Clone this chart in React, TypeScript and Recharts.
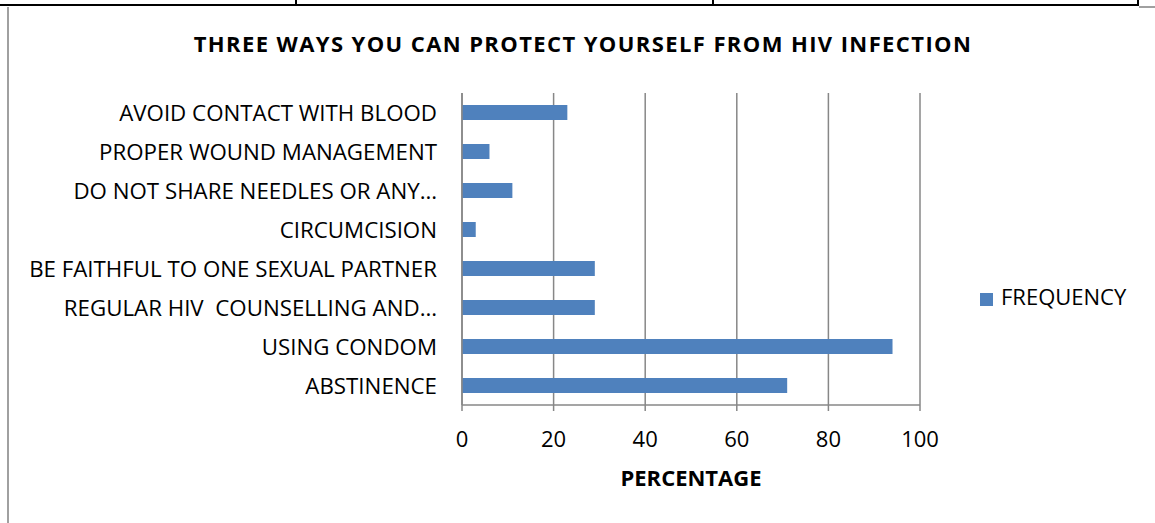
import React from 'react';
import { BarChart, Bar, XAxis, YAxis, CartesianGrid, Legend, Label } from 'recharts';

const categories = [
  'AVOID CONTACT WITH BLOOD',
  'PROPER WOUND MANAGEMENT',
  'DO NOT SHARE NEEDLES OR ANY…',
  'CIRCUMCISION',
  'BE FAITHFUL TO ONE SEXUAL PARTNER',
  'REGULAR HIV  COUNSELLING AND…',
  'USING CONDOM',
  'ABSTINENCE',
];
const frequency = [23, 6, 11, 3, 29, 29, 94, 71];
const xTicks = [0, 20, 40, 60, 80, 100];
const boundaryTicks = [0, 1, 2, 3, 4, 5, 6, 7, 8];
const seriesName = 'FREQUENCY';
const title = 'THREE WAYS YOU CAN PROTECT YOURSELF FROM HIV INFECTION';
const xTitle = 'PERCENTAGE';

const data = categories.map((c, i) => ({ name: c, value: frequency[i] }));

const FONT = '"Open Sans", sans-serif';
const GRID = '#878787';

const YTick = (props: any) => {
  const { x, y, payload } = props;
  return (
    <text x={x} y={y} dy="0.36em" textAnchor="end" fill="#000" fontSize={22.3} fontFamily={FONT} style={{ whiteSpace: 'pre' }}>
      {payload.value}
    </text>
  );
};

export default function App() {
  return (
    <div style={{ position: 'absolute', left: 0, top: 0, width: 1155, height: 523, background: '#fff', overflow: 'hidden' }}>
      <div style={{ position: 'absolute', left: 0, top: 4, width: 1139, height: 2, background: '#000' }} />
      <div style={{ position: 'absolute', left: 295, top: 0, width: 2, height: 5, background: '#000' }} />
      <div style={{ position: 'absolute', left: 712, top: 0, width: 2, height: 5, background: '#000' }} />
      <div style={{ position: 'absolute', left: 1137, top: 0, width: 2, height: 6, background: '#000' }} />
      <div style={{ position: 'absolute', left: 1139, top: 6, width: 16, height: 1.5, background: '#a0a0a0' }} />
      <div style={{ position: 'absolute', left: 7, top: 7, width: 1.5, height: 516, background: '#a0a0a0' }} />
      <div style={{ position: 'absolute', left: 0, top: 27.5, width: 1166, textAlign: 'center', fontFamily: FONT, fontWeight: 700, fontSize: 22, lineHeight: 'normal', letterSpacing: 1.4, color: '#000', whiteSpace: 'pre' }}>
        {title}
      </div>
      <BarChart
        width={1155}
        height={523}
        data={data}
        layout="vertical"
        margin={{ top: 93, right: 235, left: 0, bottom: 0 }}
        barSize={15}
      >
        <CartesianGrid horizontal={false} vertical={true} stroke={GRID} strokeWidth={1.5} />
        <XAxis
          type="number"
          domain={[0, 100]}
          ticks={xTicks}
          height={118}
          tickSize={6}
          tickMargin={20}
          axisLine={{ stroke: GRID, strokeWidth: 1.5 }}
          tickLine={{ stroke: GRID, strokeWidth: 1.5 }}
          tick={{ fill: '#000', fontSize: 22, fontFamily: FONT }}
        >
          <Label value={xTitle} position="insideBottom" offset={37} fill="#000" fontSize={22} fontWeight={700} fontFamily={FONT} />
        </XAxis>
        <YAxis
          type="category"
          dataKey="name"
          width={462}
          tickSize={6}
          tickMargin={19}
          axisLine={false}
          tickLine={false}
          tick={<YTick />}
          interval={0}
        />
        <YAxis
          yAxisId="b"
          type="number"
          domain={[0, 8]}
          ticks={boundaryTicks}
          mirror
          tickSize={-7}
          tick={false}
          axisLine={{ stroke: GRID, strokeWidth: 1.5 }}
          tickLine={{ stroke: GRID, strokeWidth: 1.5 }}
          allowDataOverflow
        />
        <Legend
          layout="vertical"
          align="center"
          verticalAlign="middle"
          iconType="square"
          iconSize={13}
          wrapperStyle={{ left: 980, top: 281, width: 172, fontFamily: FONT, fontSize: 22 }}
          formatter={(v: any) => <span style={{ color: '#000', marginLeft: 4 }}>{v}</span>}
        />
        <Bar dataKey="value" name={seriesName} fill="#4f81bd" isAnimationActive={false} />
      </BarChart>
    </div>
  );
}
